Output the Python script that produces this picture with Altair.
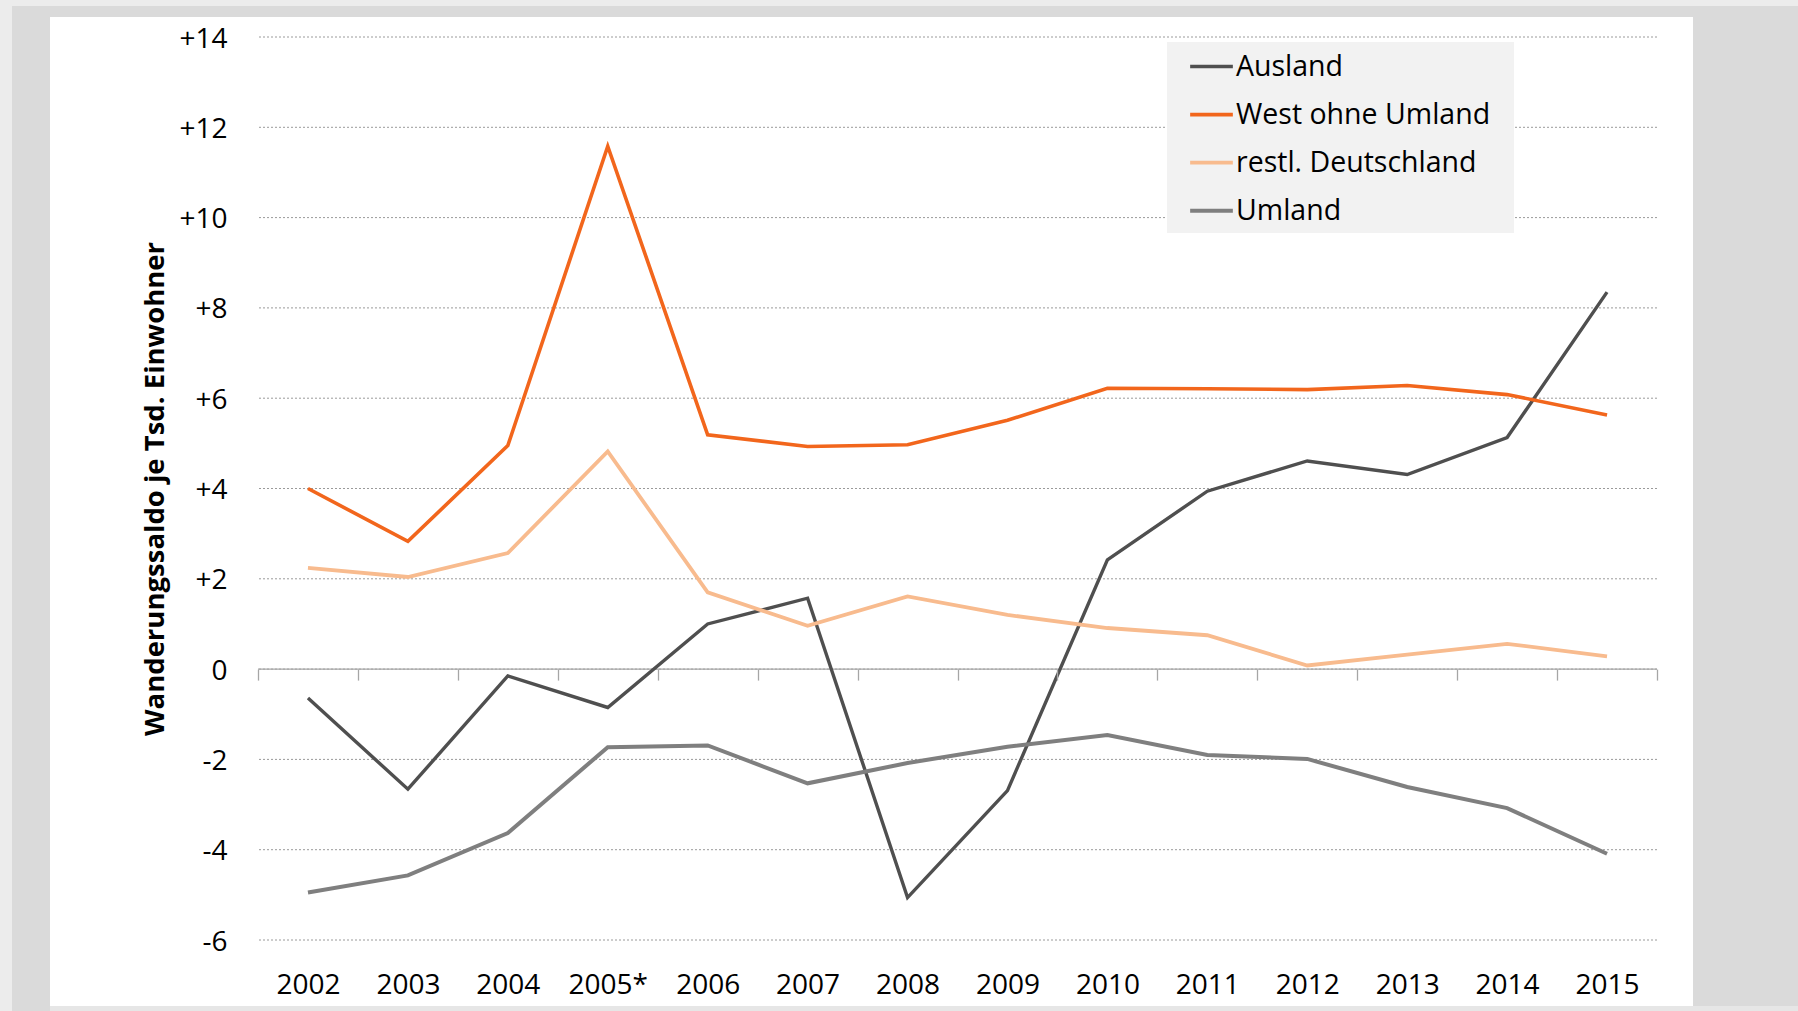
import json
import altair as alt
import pandas as pd

# Migration balance per 1,000 inhabitants, by origin/destination
years = ["2002", "2003", "2004", "2005*", "2006", "2007", "2008",
         "2009", "2010", "2011", "2012", "2013", "2014", "2015"]
series_names = ["Ausland", "West ohne Umland", "restl. Deutschland", "Umland"]
ausland = [-0.64, -2.66, -0.15, -0.85, 1.00, 1.57, -5.06,
           -2.69, 2.42, 3.94, 4.61, 4.31, 5.13, 8.35]
west_ohne_umland = [4.00, 2.83, 4.95, 11.58, 5.19, 4.93, 4.97,
                    5.51, 6.22, 6.21, 6.19, 6.28, 6.08, 5.63]
restl_deutschland = [2.24, 2.04, 2.57, 4.82, 1.70, 0.96, 1.61,
                     1.20, 0.91, 0.75, 0.08, 0.32, 0.56, 0.28]
umland = [-4.95, -4.57, -3.63, -1.73, -1.69, -2.53, -2.08,
          -1.72, -1.46, -1.90, -1.99, -2.61, -3.08, -4.09]
y_ticks = list(range(-6, 15, 2))

series_colors = ["#4f4f4f", "#f2661c", "#f8bb8e", "#7f7f7f"]
series_widths = [3.4, 4.0, 4.2, 4.2]

FONT = "Open Sans"
W, H = 1399, 903
Y_MIN, Y_MAX = -6, 14

rows = []
for name, vals in zip(series_names, [ausland, west_ohne_umland, restl_deutschland, umland]):
    for i, v in enumerate(vals):
        rows.append({"idx": i, "year": years[i], "series": name, "value": v})
df = pd.DataFrame(rows)

n = len(years)
x_scale = alt.Scale(domain=[-0.5, n - 0.5], nice=False, zero=False)
y_scale = alt.Scale(domain=[Y_MIN, Y_MAX], nice=False, zero=False)

# one shared y axis definition, used by every layer with a y field
y_axis = alt.Axis(
    values=y_ticks,
    labelExpr="datum.value > 0 ? '+' + datum.value : '' + datum.value",
    labelFont=FONT, labelFontSize=28, labelColor="#000000",
    labelPadding=31, labelOffset=2, ticks=False, tickSize=0,
    domain=False, grid=False, zindex=1,
    title="Wanderungssaldo je Tsd. Einwohner",
    titleFont=FONT, titleFontSize=27.5, titleFontWeight="bold",
    titleColor="#000000", titleAngle=270, titleAlign="center",
    titleBaseline="alphabetic", titleX=-95, titleY=H / 2)

one = alt.Data(values=[{}])

# page frame: outer grey, darker grey, white panel, thin bottom band
frame_dark = alt.Chart(one).mark_rect(color="#dadada").encode(
    x=alt.value(-246), x2=alt.value(1540), y=alt.value(-31), y2=alt.value(974))
frame_bottom = alt.Chart(one).mark_rect(color="#e6e6e6").encode(
    x=alt.value(-208), x2=alt.value(1540), y=alt.value(969), y2=alt.value(974))
frame_white = alt.Chart(one).mark_rect(color="#ffffff").encode(
    x=alt.value(-208), x2=alt.value(1435), y=alt.value(-20), y2=alt.value(969))

# dotted horizontal gridlines
grid = alt.Chart(pd.DataFrame({"value": y_ticks})).mark_rule(
    color="#9a9a9a", strokeWidth=1, strokeDash=[2, 2]
).encode(y=alt.Y("value:Q", scale=y_scale, axis=y_axis))

# zero line with category tick marks
edges = [i - 0.5 for i in range(n + 1)]
zero_offset = -(0 - Y_MIN) / (Y_MAX - Y_MIN) * H
zero_line = alt.Chart(pd.DataFrame({"lo": [edges[0]], "hi": [edges[-1]], "value": [0]})).mark_rule(
    color="#a6a6a6", strokeWidth=1.3
).encode(
    x=alt.X("lo:Q", scale=x_scale, axis=alt.Axis(
        orient="bottom", offset=zero_offset, values=edges, labels=False,
        ticks=True, tickSize=11, tickColor="#a6a6a6", tickWidth=1.3,
        domain=False, grid=False, title=None, zindex=1)),
    x2="hi:Q",
    y=alt.Y("value:Q", scale=y_scale, axis=y_axis),
)

# legend background box
legend_box = alt.Chart(one).mark_rect(color="#f2f2f2").encode(
    x=alt.value(909), x2=alt.value(1256), y=alt.value(5), y2=alt.value(196))

label_expr = json.dumps(years) + "[datum.value]"

lines = alt.Chart(df).mark_line(strokeJoin="miter").encode(
    x=alt.X("idx:Q", scale=x_scale, axis=alt.Axis(
        orient="bottom", values=list(range(n)), labelExpr=label_expr,
        labelFont=FONT, labelFontSize=28, labelColor="#000000",
        labelPadding=31, labelBaseline="top", ticks=False, tickSize=0,
        domain=False, grid=False, title=None, zindex=1, labelFlush=False)),
    y=alt.Y("value:Q", scale=y_scale, axis=y_axis),
    color=alt.Color("series:N", scale=alt.Scale(domain=series_names, range=series_colors),
                    legend=alt.Legend(
                        orient="none", legendX=930, legendY=6, title=None,
                        symbolType="stroke", symbolSize=1823, symbolStrokeWidth=3.8,
                        labelFont=FONT, labelFontSize=28.5, labelColor="#000000",
                        labelLimit=0, labelOffset=1, padding=0, rowPadding=10.1,
                        zindex=1)),
    strokeWidth=alt.StrokeWidth("series:N", scale=alt.Scale(domain=series_names, range=series_widths),
                                legend=None),
    order=alt.Order("idx:Q"),
)

chart = alt.layer(
    frame_dark, frame_bottom, frame_white, grid, zero_line, legend_box, lines
).resolve_axis(x="independent").properties(
    width=W, height=H,
    background="#ececec",
    padding={"left": 258, "top": 37, "right": 141, "bottom": 71},
    autosize=alt.AutoSizeParams(type="none"),
).configure_view(stroke=None)

chart.save("out.html", embed_options={"renderer": "svg", "actions": False})
